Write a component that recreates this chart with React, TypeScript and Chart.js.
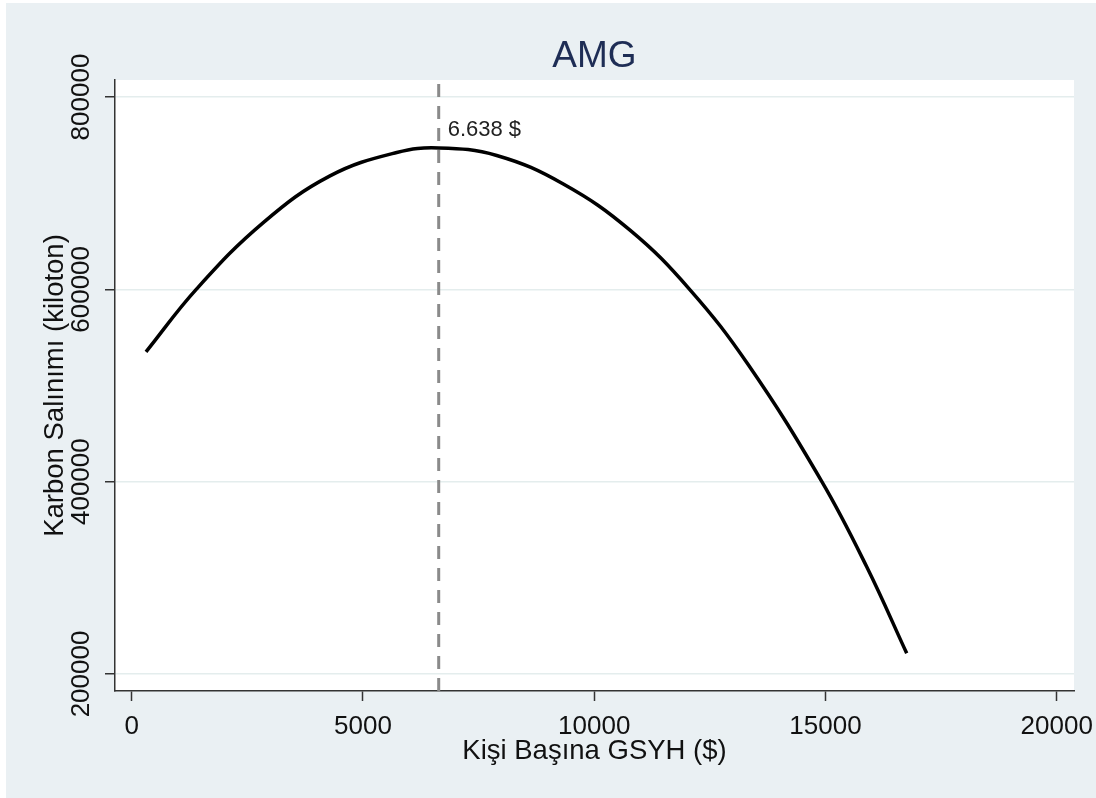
import React, { useEffect, useRef } from "react";
import { Chart, registerables } from "chart.js";

Chart.register(...registerables);

// ---- Data ----
const gdpPerCapita = [309, 1405, 2845, 4288, 5730, 6638, 7892, 9332, 10774, 12072, 13332, 14919, 15892, 16757];
const carbonEmission = [535000, 600500, 669400, 718000, 742300, 747000, 739200, 709500, 661500, 599500, 521500, 400300, 311500, 221500];

const xTicks = [0, 5000, 10000, 15000, 20000];
const yTicks = [200000, 400000, 600000, 800000];
const xRange = [-361, 20374];
const yRange = [182300, 817700];

const turningPoint = 6638;
const turningLabel = "6.638 $";
const chartTitle = "AMG";
const xTitle = "Kişi Başına GSYH ($)";
const yTitle = "Karbon Salınımı (kiloton)";

const FONT = "'Liberation Sans', Arial, sans-serif";

export default function App() {
  const canvasRef = useRef<HTMLCanvasElement | null>(null);

  useEffect(() => {
    const canvas = canvasRef.current;
    if (!canvas) return;

    const decor = {
      id: "decor",
      beforeDraw(chart: any) {
        const { ctx, chartArea } = chart;
        ctx.save();
        ctx.fillStyle = "#ffffff";
        ctx.fillRect(0, 0, chart.width, chart.height);
        ctx.fillStyle = "#eaf0f3";
        ctx.fillRect(6, 3, chart.width - 6, chart.height - 3);
        ctx.fillStyle = "#ffffff";
        ctx.fillRect(chartArea.left, chartArea.top, chartArea.right - chartArea.left, chartArea.bottom - chartArea.top);
        ctx.restore();
      },
      afterDraw(chart: any) {
        const { ctx, chartArea } = chart;
        const xs = chart.scales.x;
        const ys = chart.scales.y;
        const cx = (chartArea.left + chartArea.right) / 2;
        const cy = (chartArea.top + chartArea.bottom) / 2;
        ctx.save();
        // Title
        ctx.fillStyle = "#1e2d55";
        ctx.font = `37px ${FONT}`;
        ctx.textAlign = "center";
        ctx.textBaseline = "alphabetic";
        ctx.fillText(chartTitle, cx, 67);
        // X axis title
        ctx.fillStyle = "#111111";
        ctx.font = `27.5px ${FONT}`;
        ctx.fillText(xTitle, cx, 759);
        // Y axis title
        ctx.save();
        ctx.translate(63, cy);
        ctx.rotate(-Math.PI / 2);
        ctx.textAlign = "center";
        ctx.textBaseline = "alphabetic";
        ctx.fillText(yTitle, 0, 0);
        ctx.restore();
        // Turning point label
        const peak = Math.max(...carbonEmission);
        ctx.font = `22px ${FONT}`;
        ctx.textAlign = "left";
        ctx.fillStyle = "#222222";
        ctx.fillText(turningLabel, xs.getPixelForValue(turningPoint) + 9, ys.getPixelForValue(peak) - 12);
        ctx.restore();
      },
    };

    const chart = new Chart(canvas, {
      type: "line",
      data: {
        datasets: [
          {
            data: gdpPerCapita.map((x, i) => ({ x, y: carbonEmission[i] })),
            borderColor: "#000000",
            borderWidth: 3.5,
            pointRadius: 0,
            tension: 0.4,
            fill: false,
          },
          {
            data: [
              { x: turningPoint, y: yRange[0] },
              { x: turningPoint, y: yRange[1] },
            ],
            borderColor: "#8a8a8a",
            borderWidth: 3,
            borderDash: [13, 9],
            pointRadius: 0,
            fill: false,
          },
        ],
      },
      options: {
        responsive: false,
        animation: false,
        layout: { padding: { left: 0, top: 80, right: 22, bottom: 0 } },
        plugins: { legend: { display: false }, tooltip: { enabled: false }, title: { display: false } },
        scales: {
          x: {
            type: "linear",
            min: xRange[0],
            max: xRange[1],
            afterBuildTicks: (scale: any) => {
              scale.ticks = xTicks.map((v) => ({ value: v }));
            },
            afterFit: (scale: any) => {
              scale.height = 107;
              scale.paddingLeft = 0;
              scale.paddingRight = 0;
            },
            grid: {
              color: "rgba(0,0,0,0)",
              tickColor: "#333333",
              tickLength: 10,
              tickWidth: 1.5,
              drawTicks: true,
            },
            border: { display: true, color: "#333333", width: 1.5 },
            ticks: {
              autoSkip: false,
              maxRotation: 0,
              minRotation: 0,
              padding: 10,
              color: "#111111",
              font: { family: FONT, size: 26 },
              callback: (v: any) => String(v),
            },
          },
          y: {
            type: "linear",
            min: yRange[0],
            max: yRange[1],
            afterBuildTicks: (scale: any) => {
              scale.ticks = yTicks.map((v) => ({ value: v }));
            },
            afterFit: (scale: any) => {
              scale.width = 115;
              scale.paddingTop = 0;
              scale.paddingBottom = 0;
            },
            grid: {
              color: "#e4eded",
              lineWidth: 1.5,
              tickColor: "#333333",
              tickLength: 10,
              tickWidth: 1.5,
              drawTicks: true,
            },
            border: { display: true, color: "#333333", width: 1.5 },
            ticks: {
              autoSkip: false,
              minRotation: 90,
              maxRotation: 90,
              crossAlign: "center",
              padding: -20,
              color: "#111111",
              font: { family: FONT, size: 26 },
              callback: (v: any) => String(v),
            },
          },
        },
      },
      plugins: [decor],
    } as any);

    return () => chart.destroy();
  }, []);

  return (
    <div style={{ position: "absolute", left: 0, top: 0, width: 1096, height: 798 }}>
      <canvas ref={canvasRef} width={1096} height={798} style={{ width: 1096, height: 798, display: "block" }} />
    </div>
  );
}
